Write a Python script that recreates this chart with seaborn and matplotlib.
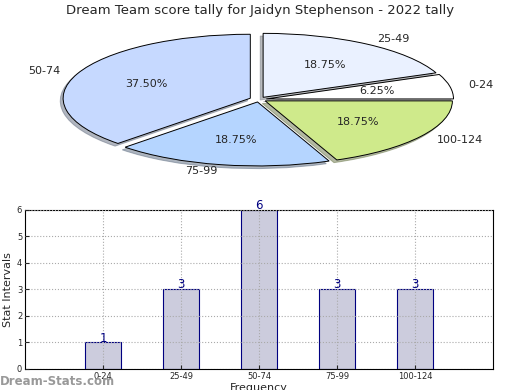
import matplotlib
matplotlib.use('Agg')
import matplotlib.pyplot as plt
import seaborn as sns
import pandas as pd

# score intervals and how many games fell in each
intervals = ['0-24', '25-49', '50-74', '75-99', '100-124']
counts = [1, 3, 6, 3, 3]
pie_colors = ['#ffffff', '#eaf1ff', '#c6d9ff', '#b5d5ff', '#cfea8b']
explode = [0.04, 0.04, 0.05, 0.04, 0.04]

title = 'Dream Team score tally for Jaidyn Stephenson - 2022 tally'

sns.set_style('white')
plt.rcParams['font.family'] = ['DejaVu Sans']

fig = plt.figure(figsize=(5.2, 3.9), dpi=100)

## PIE
ax_pie = fig.add_axes([0.048, 0.54, 0.9, 0.41])
wedges, texts, autotexts = ax_pie.pie(
    counts,
    labels=intervals,
    colors=pie_colors,
    explode=explode,
    autopct='%.2f%%',
    shadow={'ox': -0.011, 'oy': -0.03, 'shade': 0.5},
    startangle=0,
    wedgeprops={'edgecolor': 'black', 'linewidth': 0.7},
    textprops={'fontsize': 8},
)
ax_pie.set_aspect('auto')
ax_pie.set_xlim(-1.25, 1.25)
ax_pie.set_ylim(-1.25, 1.25)
fig.text(0.5, 0.972, title, ha='center', va='center', fontsize=9.5)

## BARS
df = pd.DataFrame({'interval': intervals, 'count': counts})
ax_bar = fig.add_axes([0.048, 0.054, 0.9, 0.408])
sns.barplot(data=df, x='interval', y='count', color='#ccccdd', edgecolor='#000080',
            linewidth=0.8, width=0.46, saturation=1, ax=ax_bar, zorder=2)
for i, c in enumerate(counts):
    ax_bar.annotate(str(c), (i, c), xytext=(0, -1.5), textcoords='offset points',
                    ha='center', va='bottom', fontsize=8.5, color='#000080',
                    annotation_clip=False)
ax_bar.set_xlim(-1, 5)
ax_bar.set_ylim(0, 6)
ax_bar.set_yticks(range(7))
ax_bar.grid(True, linestyle=':', color='#aaaaaa', linewidth=0.8)
ax_bar.set_axisbelow(False)
ax_bar.tick_params(axis='both', labelsize=6, direction='in', length=3, pad=2)
ax_bar.tick_params(axis='y', left=True)
ax_bar.tick_params(axis='x', bottom=True)
ax_bar.set_ylabel('Stat Intervals', fontsize=8, labelpad=3)
ax_bar.set_xlabel('Frequency', fontsize=8, labelpad=2)
for s in ax_bar.spines.values():
    s.set_color('black')
    s.set_linewidth(0.8)

fig.text(0.0, 0.022, 'Dream-Stats.com', fontsize=8.5, color='#999999',
         weight='bold', ha='left', va='center')

fig.savefig('out.png', dpi=100)
